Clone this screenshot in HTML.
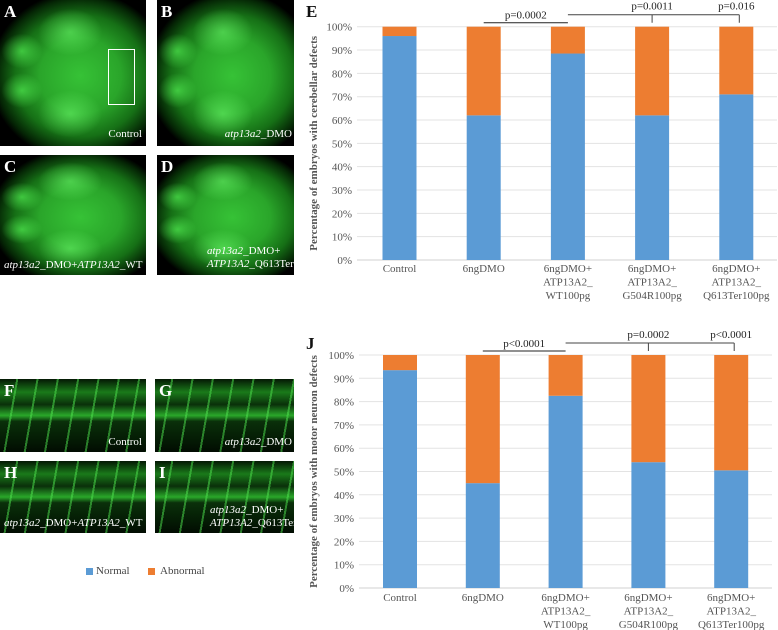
<!DOCTYPE html>
<html><head><meta charset="utf-8"><style>
body{margin:0;width:778px;height:630px;background:#fff;position:relative;overflow:hidden;font-family:"Liberation Serif",serif}
.p{position:absolute;background:#000;overflow:hidden}
.lab{position:absolute;color:#fff;font-weight:bold;font-size:17px;font-family:"Liberation Serif",serif;z-index:2}
.cap{position:absolute;color:#fff;font-size:11px;font-family:"Liberation Serif",serif;white-space:nowrap;z-index:2}
.head{background:
 radial-gradient(ellipse 14% 12% at 15% 35%,rgba(90,255,90,.6),transparent),
 radial-gradient(ellipse 14% 12% at 15% 62%,rgba(90,255,90,.6),transparent),
 radial-gradient(ellipse 22% 16% at 48% 22%,rgba(110,255,110,.55),transparent),
 radial-gradient(ellipse 22% 16% at 48% 78%,rgba(110,255,110,.55),transparent),
 radial-gradient(ellipse 62% 58% at 55% 52%,#36c236 0%,#2aa52a 45%,#167016 72%,#052605 92%,#000 100%)}
.tail{background:linear-gradient(180deg,#041804 0%,#1a7a1a 18%,#0a300a 35%,#2aa82a 50%,#0a300a 58%,#041a04 85%,#020c02 100%)}
.tail::after{content:"";position:absolute;inset:0;background:repeating-linear-gradient(100deg,transparent 0 16px,rgba(80,230,80,.5) 16px 18px,transparent 18px 20px)}
</style></head><body>
<div class="p head" style="left:0;top:0;width:146px;height:146px"><div style="position:absolute;left:108px;top:49px;width:25px;height:54px;border:1.5px solid #fff"></div><div class="lab" style="left:4px;top:2px">A</div><div class="cap" style="right:4px;bottom:6px">Control</div></div>
<div class="p head" style="left:157px;top:0;width:137px;height:146px"><div class="lab" style="left:4px;top:2px">B</div><div class="cap" style="right:2px;bottom:6px"><i>atp13a2</i>_DMO</div></div>
<div class="p head" style="left:0;top:155px;width:146px;height:120px"><div class="lab" style="left:4px;top:2px">C</div><div class="cap" style="left:4px;bottom:4px"><i>atp13a2</i>_DMO+<i>ATP13A2</i>_WT</div></div>
<div class="p head" style="left:157px;top:155px;width:137px;height:120px"><div class="lab" style="left:4px;top:2px">D</div><div class="cap" style="left:50px;bottom:4px;line-height:13px"><i>atp13a2</i>_DMO+<br><i>ATP13A2</i>_Q613Ter</div></div>
<div class="p tail" style="left:0;top:379px;width:146px;height:73px"><div class="lab" style="left:4px;top:2px">F</div><div class="cap" style="right:4px;bottom:4px">Control</div></div>
<div class="p tail" style="left:155px;top:379px;width:139px;height:73px"><div class="lab" style="left:4px;top:2px">G</div><div class="cap" style="right:2px;bottom:4px"><i>atp13a2</i>_DMO</div></div>
<div class="p tail" style="left:0;top:461px;width:146px;height:72px"><div class="lab" style="left:4px;top:2px">H</div><div class="cap" style="left:4px;bottom:4px"><i>atp13a2</i>_DMO+<i>ATP13A2</i>_WT</div></div>
<div class="p tail" style="left:155px;top:461px;width:139px;height:72px"><div class="lab" style="left:4px;top:2px">I</div><div class="cap" style="left:55px;bottom:3px;line-height:13px"><i>atp13a2</i>_DMO+<br><i>ATP13A2</i>_Q613Ter</div></div>
<div style="position:absolute;left:86px;top:565px;font-size:11px;color:#444">
<span style="position:absolute;left:0;top:3px;width:7px;height:7px;background:#5b9bd5"></span><span style="position:absolute;left:10px;top:0">Normal</span>
<span style="position:absolute;left:62px;top:3px;width:7px;height:7px;background:#ed7d31"></span><span style="position:absolute;left:74px;top:0;white-space:nowrap">Abnormal</span></div>
<svg id="svg" width="778" height="630" style="position:absolute;left:0;top:0" font-family="Liberation Serif, serif"></svg>
<script>
const categories=["Control","6ngDMO","6ngDMO+|ATP13A2_|WT100pg","6ngDMO+|ATP13A2_|G504R100pg","6ngDMO+|ATP13A2_|Q613Ter100pg"];
const normalE=[96,62,88.5,62,71];
const normalJ=[93.5,45,82.5,54,50.5];
const ticks=[0,10,20,30,40,50,60,70,80,90,100];
const pE=["p=0.0002","p=0.0011","p=0.016"];
const pJ=["p<0.0001","p=0.0002","p<0.0001"];
const NS="http://www.w3.org/2000/svg";
const svg=document.getElementById('svg');
function mk(t,a,p){const e=document.createElementNS(NS,t);for(const k in a)e.setAttribute(k,a[k]);(p||svg).appendChild(e);return e;}
function chart(name,letter,vals,pv,y0,y100,x0,x1,c0,dx,ytitle,labY,letY){
  const g=mk('g',{});
  
  
  const y=v=>y0+(y100-y0)*v/100, xc=i=>c0+i*dx, bw=34;
  ticks.forEach(t=>{
    const l=mk('line',{x1:x0,x2:x1,y1:y(t),y2:y(t),stroke:t?'#e3e3e3':'#d0d0d0','stroke-width':1},g);
    
    
    const tx=mk('text',{x:x0-5,y:y(t)+4,'text-anchor':'end','font-size':11,fill:'#555'},g);tx.textContent=t+'%';
    
    
  });
  vals.forEach((v,i)=>{
    const b=mk('rect',{x:xc(i)-bw/2,y:y(v),width:bw,height:y(0)-y(v),fill:'#5b9bd5'},g);
    
    
    const a=mk('rect',{x:xc(i)-bw/2,y:y(100),width:bw,height:y(v)-y(100),fill:'#ed7d31'},g);
    
    
    categories[i].split('|').forEach((s,k)=>{const t=mk('text',{x:xc(i),y:labY+k*13.5,'text-anchor':'middle','font-size':11,fill:'#555'},g);t.textContent=s;
      
      });
  });
  const yt=mk('text',{transform:`translate(317,${(y0+y100)/2}) rotate(-90)`,'text-anchor':'middle','font-size':11,'font-weight':'bold',fill:'#555'},g);yt.textContent=ytitle;
  
  
  const L=mk('text',{x:306,y:letY,'font-size':17,'font-weight':'bold',fill:'#111'},g);L.textContent=letter;
  
  
  const ly1=y100-4, ly2=y100-12;
  mk('line',{x1:xc(1),x2:xc(2),y1:ly1,y2:ly1,stroke:'#222','stroke-width':1},g);
  mk('path',{d:`M${xc(2)} ${ly2}H${xc(4)+3}M${xc(3)} ${ly2}V${ly1}M${xc(4)+3} ${ly2}V${ly1}`,stroke:'#444',fill:'none','stroke-width':1},g);
  [[(xc(1)+xc(2))/2,ly1-4],[xc(3),ly2-5],[xc(4),ly2-5]].forEach((p,k)=>{const t=mk('text',{x:p[0],y:p[1],'text-anchor':'middle','font-size':11,fill:'#222'},g);t.textContent=pv[k];
    
    });
}
chart('chart-e-cerebellar','E',normalE,pE,260,26.7,357,777,399.5,84.2,'Percentage of embryos with cerebellar defects',272,17);
chart('chart-j-motor-neuron','J',normalJ,pJ,588,355,359,772,400,82.8,'Percentage of embryos with motor neuron defects',601,349);
</script>
</body></html>
